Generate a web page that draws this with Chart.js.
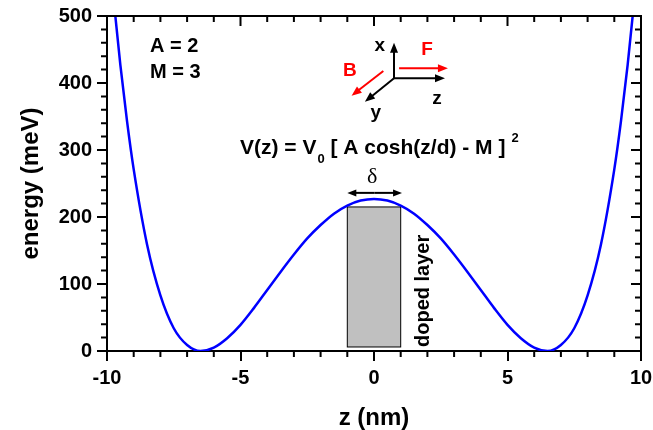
<!DOCTYPE html>
<html>
<head>
<meta charset="utf-8">
<script src="https://cdn.jsdelivr.net/npm/chart.js@4"></script>
<style>
  body { margin: 0; background: #fff; }
  canvas { display: block; }
</style>
</head>
<body>
<canvas id="chart" width="653" height="430"></canvas>
<script>
// position z (nm) and potential energy (meV)
const zValues = [-10, -9.75, -9.5, -9.25, -9, -8.5, -8, -7.5, -7, -6.5, -6, -5.5, -5, -4.5, -4, -3.5, -3, -2.5, -2, -1.5, -1, -0.5,
    0, 0.5, 1, 1.5, 2, 2.5, 3, 3.5, 4, 4.5, 5, 5.5, 6, 6.5, 7, 7.5, 8, 8.5, 9, 9.25, 9.5, 9.75, 10];
const energy = [635, 524, 427, 343, 271, 159, 83, 34, 9, 0, 5, 19, 39, 64, 91, 118, 144, 168, 188, 205, 217, 224.5,
    227, 224.5, 217, 205, 188, 168, 144, 118, 91, 64, 39, 19, 5, 0, 9, 34, 83, 159, 271, 343, 427, 524, 635];

// axis ticks
const zTicks = [-10, -5, 0, 5, 10];
const energyTicks = [0, 100, 200, 300, 400, 500];

// doped layer
const layerZ = [-1, 1];
const layerEnergy = [6, 215];

const FONT = "'Liberation Sans', Arial, sans-serif";
const points = zValues.map((z, i) => ({ x: z, y: energy[i] }));

function arrow(ctx, x1, y1, x2, y2, color, head, half) {
    const a = Math.atan2(y2 - y1, x2 - x1);
    ctx.strokeStyle = color;
    ctx.fillStyle = color;
    ctx.lineWidth = 2;
    ctx.beginPath();
    ctx.moveTo(x1, y1);
    ctx.lineTo(x2 - Math.cos(a) * head * 0.8, y2 - Math.sin(a) * head * 0.8);
    ctx.stroke();
    ctx.beginPath();
    ctx.moveTo(x2, y2);
    ctx.lineTo(x2 - Math.cos(a) * head - Math.sin(a) * half, y2 - Math.sin(a) * head + Math.cos(a) * half);
    ctx.lineTo(x2 - Math.cos(a) * head + Math.sin(a) * half, y2 - Math.sin(a) * head - Math.cos(a) * half);
    ctx.closePath();
    ctx.fill();
}

const annotations = {
    id: 'annotations',
    beforeDatasetsDraw(chart) {
        const ctx = chart.ctx;
        const x = chart.scales.x, y = chart.scales.y;
        const left = x.getPixelForValue(layerZ[0]), right = x.getPixelForValue(layerZ[1]);
        const top = y.getPixelForValue(layerEnergy[1]), bottom = y.getPixelForValue(layerEnergy[0]);
        ctx.save();
        ctx.fillStyle = '#c0c0c0';
        ctx.fillRect(left, top, right - left, bottom - top);
        ctx.strokeStyle = '#000';
        ctx.lineWidth = 1;
        ctx.strokeRect(left, top, right - left, bottom - top);
        ctx.restore();
    },
    afterDraw(chart) {
        const ctx = chart.ctx;
        const x = chart.scales.x, y = chart.scales.y;
        const area = chart.chartArea;
        const P = (z, v) => [x.getPixelForValue(z), y.getPixelForValue(v)];
        ctx.save();

        // frame on top and right
        ctx.strokeStyle = '#000';
        ctx.lineWidth = 2;
        ctx.beginPath();
        ctx.moveTo(area.left - 1, area.top);
        ctx.lineTo(area.right, area.top);
        ctx.lineTo(area.right, area.bottom + 1);
        ctx.stroke();

        // minor ticks outside, mirror ticks inside
        ctx.beginPath();
        for (let z = -10; z <= 10; z++) {
            const px = x.getPixelForValue(z);
            const major = z % 5 === 0;
            if (!major) {
                ctx.moveTo(px, area.bottom);
                ctx.lineTo(px, area.bottom + 6);
            }
            ctx.moveTo(px, area.top);
            ctx.lineTo(px, area.top + (major ? 10 : 6));
        }
        for (let v = 0; v <= 500; v += 20) {
            const py = y.getPixelForValue(v);
            const major = v % 100 === 0;
            if (!major) {
                ctx.moveTo(area.left, py);
                ctx.lineTo(area.left - 6, py);
            }
            ctx.moveTo(area.right, py);
            ctx.lineTo(area.right - (major ? 10 : 6), py);
        }
        ctx.stroke();

        // text
        ctx.fillStyle = '#000';
        ctx.font = 'bold 20px ' + FONT;
        ctx.textBaseline = 'middle';
        ctx.textAlign = 'left';
        let p = P(-8.39, 455);
        ctx.fillText('A = 2', p[0], p[1]);
        p = P(-8.39, 416);
        ctx.fillText('M = 3', p[0], p[1]);

        // equation
        p = P(-5.02, 303);
        let cx = p[0];
        const cy = p[1];
        ctx.font = 'bold 21px ' + FONT;
        const main1 = 'V(z) = V';
        ctx.fillText(main1, cx, cy);
        cx += ctx.measureText(main1).width + 1;
        ctx.font = 'bold 13px ' + FONT;
        ctx.fillText('0', cx, cy + 11);
        cx += ctx.measureText('0').width;
        ctx.font = 'bold 21px ' + FONT;
        const main2 = ' [ A cosh(z/d) - M ]';
        ctx.fillText(main2, cx, cy);
        cx += ctx.measureText(main2).width + 6;
        ctx.font = 'bold 13px ' + FONT;
        ctx.fillText('2', cx, cy - 10);

        // delta
        p = P(-0.07, 259);
        ctx.font = '22px "Liberation Serif", "Times New Roman", serif';
        ctx.textAlign = 'center';
        ctx.fillText('\u03b4', p[0], p[1]);
        let a = P(-1, 236), b = P(1.05, 236);
        const mid = (a[0] + b[0]) / 2;
        arrow(ctx, mid, a[1], a[0], a[1], '#000', 9, 3.5);
        arrow(ctx, mid, a[1], b[0], b[1], '#000', 9, 3.5);

        // doped layer label
        p = P(1.84, 6);
        ctx.save();
        ctx.translate(p[0], p[1]);
        ctx.rotate(-Math.PI / 2);
        ctx.font = 'bold 20px ' + FONT;
        ctx.textAlign = 'left';
        ctx.fillText('doped layer', 0, 0);
        ctx.restore();

        // coordinate system sketch
        const o = P(0.75, 407);
        a = P(0.75, 460);
        arrow(ctx, o[0], o[1], a[0], a[1], '#000', 10, 4);
        a = P(2.66, 407);
        arrow(ctx, o[0], o[1], a[0], a[1], '#000', 10, 4);
        a = P(-0.34, 372);
        arrow(ctx, o[0], o[1], a[0], a[1], '#000', 10, 4);
        a = P(0.94, 422); b = P(2.77, 422);
        arrow(ctx, a[0], a[1], b[0], b[1], '#ff0000', 10, 4);
        a = P(0.35, 418); b = P(-0.84, 381);
        arrow(ctx, a[0], a[1], b[0], b[1], '#ff0000', 10, 4);

        ctx.font = 'bold 19px ' + FONT;
        ctx.textAlign = 'center';
        ctx.fillStyle = '#000';
        p = P(0.22, 455); ctx.fillText('x', p[0], p[1]);
        p = P(2.36, 376); ctx.fillText('z', p[0], p[1]);
        p = P(0.07, 355); ctx.fillText('y', p[0], p[1]);
        ctx.fillStyle = '#ff0000';
        p = P(1.99, 449); ctx.fillText('F', p[0], p[1]);
        p = P(-0.9, 419); ctx.fillText('B', p[0], p[1]);

        ctx.restore();
    }
};

new Chart(document.getElementById('chart').getContext('2d'), {
    type: 'line',
    data: {
        datasets: [{
            data: points,
            borderColor: '#0000ff',
            borderWidth: 2.5,
            pointRadius: 0,
            fill: false,
            cubicInterpolationMode: 'monotone'
        }]
    },
    options: {
        responsive: false,
        animation: false,
        devicePixelRatio: 1,
        layout: { padding: { left: 0, right: 12, top: 16, bottom: 0 } },
        plugins: { legend: { display: false }, tooltip: { enabled: false } },
        scales: {
            x: {
                type: 'linear',
                min: -10,
                max: 10,
                afterFit: s => { s.height = 79; s.paddingLeft = 0; s.paddingRight = 0; },
                afterBuildTicks: s => { s.ticks = zTicks.map(v => ({ value: v })); },
                grid: { drawOnChartArea: false, color: '#000', lineWidth: 2, tickLength: 10 },
                border: { color: '#000', width: 2 },
                ticks: { color: '#000', padding: 5, maxRotation: 0, font: { family: FONT, size: 20, weight: 'bold' } },
                title: { display: true, text: 'z (nm)', color: '#000', padding: { top: 0, bottom: 0 },
                    font: { family: FONT, size: 24, weight: 'bold', lineHeight: 1 } }
            },
            y: {
                min: 0,
                max: 500,
                afterFit: s => { s.width = 107; s.paddingTop = 0; s.paddingBottom = 0; },
                afterBuildTicks: s => { s.ticks = energyTicks.map(v => ({ value: v })); },
                grid: { drawOnChartArea: false, color: '#000', lineWidth: 2, tickLength: 10 },
                border: { color: '#000', width: 2 },
                ticks: { color: '#000', padding: 5, font: { family: FONT, size: 20, weight: 'bold' } },
                title: { display: true, text: 'energy (meV)', color: '#000', padding: { top: 19, bottom: 0 },
                    font: { family: FONT, size: 24, weight: 'bold', lineHeight: 1 } }
            }
        }
    },
    plugins: [annotations]
});
</script>
</body>
</html>
